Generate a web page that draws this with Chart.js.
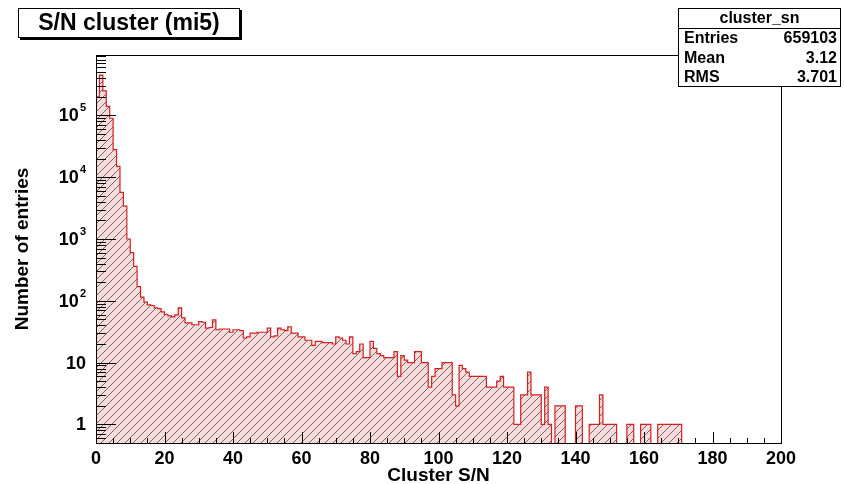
<!DOCTYPE html>
<html>
<head>
<meta charset="utf-8">
<script src="https://cdn.jsdelivr.net/npm/chart.js@4.4.1/dist/chart.umd.min.js"></script>
<style>
    html, body { margin: 0; padding: 0; background: #fff; }
    #wrap { width: 844px; height: 484px; }
</style>
</head>
<body>
<div id="wrap"><canvas id="hist" width="844" height="484"></canvas></div>
<script>
const histTitle = 'S/N cluster (mi5)';
const xTitle = 'Cluster S/N';
const yTitle = 'Number of entries';

// 200 bins of width 1 from 0 to 200
const xMin = 0;
const xMax = 200;
const counts = [
    200000, 450000, 250000, 140000, 90000, 28000, 15000, 5700, 3400, 1000,
    600, 360, 170, 115, 95, 86, 84, 77, 75, 66,
    60, 57, 55, 59, 77, 53, 44, 44, 41, 41,
    46, 45, 36, 37, 49, 34, 35, 35, 35, 31,
    34, 34, 33, 25, 26, 30, 30, 31, 31, 31,
    36, 26, 27, 36, 34, 33, 38, 30, 30, 26,
    26, 23, 23, 19, 22, 22, 21, 21, 21, 20,
    26, 25, 23, 20, 26, 14, 15, 20, 12, 12,
    22, 17, 14, 13, 12, 12, 12, 15, 6, 13,
    11, 10, 10, 15, 15, 10, 10, 4, 6, 8,
    8, 10, 10, 10, 3, 2, 9, 8, 7, 6,
    6, 6, 6, 6, 4, 4, 4, 5, 6, 4,
    4, 4, 1, 1, 3, 3, 7, 3, 3, 3,
    1, 4, 1, 0, 2, 2, 2, 0, 0, 0,
    2, 2, 0, 0, 1, 1, 1, 3, 1, 1,
    1, 1, 0, 0, 0, 1, 1, 0, 0, 1,
    1, 1, 0, 0, 1, 1, 1, 1, 1, 1,
    1, 0, 0, 0, 0, 0, 0, 0, 0, 0,
    0, 0, 0, 0, 0, 0, 0, 0, 0, 0,
    0, 0, 0, 0, 0, 0, 0, 0, 0, 0
];

const xMajorTicks = [0, 20, 40, 60, 80, 100, 120, 140, 160, 180, 200];
const yMin = 0.5;
const yMax = 9.5e5;
const yDecades = [1, 10, 100, 1000, 10000, 100000];
const yDecadeBase = ['1', '10', '10', '10', '10', '10'];
const yDecadeExp = ['', '', '2', '3', '4', '5'];

const statsName = 'cluster_sn';
const statsLabels = ['Entries', 'Mean', 'RMS'];
const statsValues = ['659103', '3.12', '3.701'];

const FONT = "'Liberation Sans', Arial, Helvetica, sans-serif";
const zeroFloor = 0.05; // empty bins sit under the axis on a log scale

const canvas = document.getElementById('hist');

function makeHatch() {
    const tile = document.createElement('canvas');
    tile.width = 8;
    tile.height = 8;
    const g = tile.getContext('2d');
    g.fillStyle = '#f4dcdd';
    g.fillRect(0, 0, 8, 8);
    g.strokeStyle = 'rgba(90, 60, 60, 0.75)';
    g.lineWidth = 1;
    g.beginPath();
    g.moveTo(-1, 9); g.lineTo(9, -1);
    g.moveTo(-3, 3); g.lineTo(3, -3);
    g.moveTo(5, 11); g.lineTo(11, 5);
    g.stroke();
    return canvas.getContext('2d').createPattern(tile, 'repeat');
}

function buildPoints() {
    const binW = (xMax - xMin) / counts.length;
    const pts = counts.map((c, i) => ({ x: xMin + i * binW, y: c > 0 ? c : zeroFloor }));
    const last = counts[counts.length - 1];
    pts.push({ x: xMax, y: last > 0 ? last : zeroFloor });
    return pts;
}

function isDecade(v) {
    const e = Math.log10(v);
    return Math.abs(e - Math.round(e)) < 1e-6;
}

function isIntMantissa(v) {
    const m = v / Math.pow(10, Math.floor(Math.log10(v) + 1e-9));
    return Math.abs(m - Math.round(m)) < 1e-6;
}

// ROOT style frame with ticks drawn inward, plus the log labels with exponents
const frameTicks = {
    id: 'frameTicks',
    afterDatasetsDraw(chart) {
        const { ctx, chartArea: a, scales: { x, y } } = chart;
        ctx.save();
        ctx.strokeStyle = '#000';
        ctx.lineWidth = 1;
        ctx.beginPath();
        x.ticks.forEach(t => {
            const px = Math.round(x.getPixelForValue(t.value)) + 0.5;
            const len = xMajorTicks.includes(t.value) ? 11 : 5;
            ctx.moveTo(px, a.bottom);
            ctx.lineTo(px, a.bottom - len);
        });
        y.ticks.forEach(t => {
            if (t.value < yMin || t.value > yMax || !isIntMantissa(t.value)) return;
            const py = Math.round(y.getPixelForValue(t.value)) + 0.5;
            const len = isDecade(t.value) ? 20 : 10;
            ctx.moveTo(a.left, py);
            ctx.lineTo(a.left + len, py);
        });
        ctx.stroke();
        ctx.strokeRect(Math.round(a.left) + 0.5, Math.round(a.top) + 0.5,
            Math.round(a.right - a.left), Math.round(a.bottom - a.top));

        ctx.fillStyle = '#000';
        ctx.textBaseline = 'middle';
        yDecades.forEach((d, i) => {
            const py = y.getPixelForValue(d);
            let right = a.left - 10;
            if (yDecadeExp[i]) {
                ctx.font = 'bold 11px ' + FONT;
                ctx.textAlign = 'right';
                ctx.fillText(yDecadeExp[i], right, py - 7);
                right -= ctx.measureText(yDecadeExp[i]).width;
                right -= 1;
            }
            ctx.font = 'bold 18px ' + FONT;
            ctx.textAlign = 'right';
            ctx.fillText(yDecadeBase[i], right, py + 1);
        });
        ctx.restore();
    }
};

// title pave and stats box
const paves = {
    id: 'paves',
    afterDraw(chart) {
        const ctx = chart.ctx;
        ctx.save();
        // title box
        ctx.fillStyle = '#000';
        ctx.fillRect(20, 10, 222, 30);
        ctx.fillStyle = '#fff';
        ctx.fillRect(18, 8, 222, 30);
        ctx.strokeStyle = '#000';
        ctx.lineWidth = 1;
        ctx.strokeRect(18.5, 8.5, 221, 29);
        ctx.fillStyle = '#000';
        ctx.font = 'bold 23px ' + FONT;
        ctx.textAlign = 'center';
        ctx.textBaseline = 'middle';
        ctx.fillText(histTitle, 129, 24);

        // stats box
        const bx = 678, by = 8, bw = 163, bh = 79;
        ctx.fillStyle = '#fff';
        ctx.fillRect(bx, by, bw, bh);
        ctx.strokeRect(bx + 0.5, by + 0.5, bw - 1, bh - 1);
        ctx.beginPath();
        ctx.moveTo(bx, 28.5);
        ctx.lineTo(bx + bw, 28.5);
        ctx.stroke();
        ctx.fillStyle = '#000';
        ctx.font = 'bold 16px ' + FONT;
        ctx.textAlign = 'center';
        ctx.fillText(statsName, bx + bw / 2, 19);
        const rowsY = [39, 59, 78];
        statsLabels.forEach((lab, i) => {
            ctx.textAlign = 'left';
            ctx.fillText(lab, bx + 6, rowsY[i]);
            ctx.textAlign = 'right';
            ctx.fillText(statsValues[i], bx + bw - 4, rowsY[i]);
        });
        ctx.restore();
    }
};

new Chart(canvas, {
    type: 'line',
    data: {
        datasets: [{
            data: buildPoints(),
            stepped: true,
            borderColor: '#d42020',
            borderWidth: 1.2,
            backgroundColor: makeHatch(),
            fill: 'start',
            pointRadius: 0,
            tension: 0
        }]
    },
    options: {
        responsive: false,
        devicePixelRatio: 1,
        animation: false,
        layout: { padding: { left: 0, top: 55, right: 63, bottom: 0 } },
        plugins: {
            legend: { display: false },
            tooltip: { enabled: false }
        },
        scales: {
            x: {
                type: 'linear',
                min: xMin,
                max: xMax,
                grid: { display: false, drawTicks: false },
                border: { display: false },
                ticks: {
                    stepSize: 5,
                    autoSkip: false,
                    maxRotation: 0,
                    padding: 5,
                    color: '#000',
                    font: { family: FONT, size: 18, weight: 'bold' },
                    callback: v => xMajorTicks.includes(v) ? String(v) : ''
                },
                title: {
                    display: true,
                    text: xTitle,
                    color: '#000',
                    font: { family: FONT, size: 19, weight: 'bold' },
                    padding: { top: 0, bottom: -3 }
                },
                afterFit: s => { s.height = 41; }
            },
            y: {
                type: 'logarithmic',
                min: yMin,
                max: yMax,
                grid: { display: false, drawTicks: false },
                border: { display: false },
                ticks: {
                    autoSkip: false,
                    padding: 10,
                    callback: () => ''
                },
                title: {
                    display: true,
                    text: yTitle,
                    color: '#000',
                    font: { family: FONT, size: 19, weight: 'bold' },
                    padding: { top: 11, bottom: 0 }
                },
                afterFit: s => { s.width = 96; }
            }
        }
    },
    plugins: [frameTicks, paves]
});
</script>
</body>
</html>
